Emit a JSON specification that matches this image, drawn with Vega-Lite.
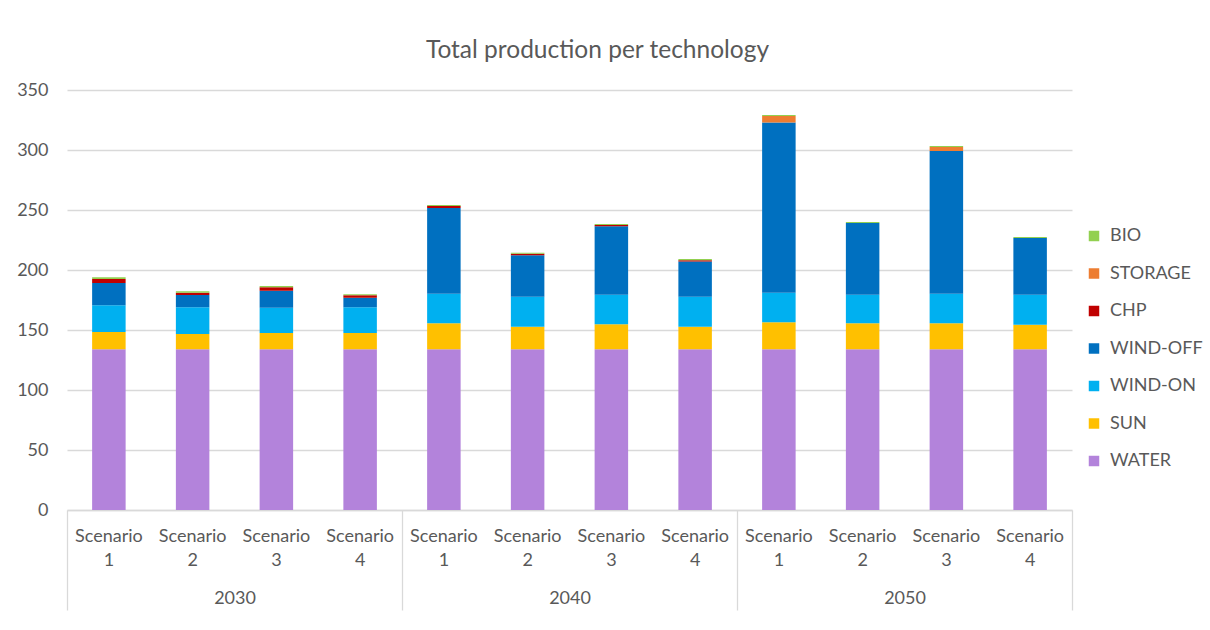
{
  "$schema": "https://vega.github.io/schema/vega-lite/v6.json",
  "autosize": {"type": "none"},
  "padding": {"left": 67, "top": 90, "right": 138, "bottom": 120},
  "width": 1005,
  "height": 420,
  "background": "white",
  "config": {"view": {"stroke": null}},
  "title": {
    "text": "Total production per technology",
    "anchor": "middle",
    "frame": "group",
    "dx": 28,
    "offset": 18,
    "font": "Lato",
    "fontSize": 24.5,
    "fontWeight": "normal",
    "color": "#595959"
  },
  "data": {
    "values": [
      {"year": "2030", "scenario": "Scenario 1", "tech": "WATER", "value": 134},
      {"year": "2030", "scenario": "Scenario 1", "tech": "SUN", "value": 14.3},
      {"year": "2030", "scenario": "Scenario 1", "tech": "WIND-ON", "value": 22.3},
      {"year": "2030", "scenario": "Scenario 1", "tech": "WIND-OFF", "value": 18.6},
      {"year": "2030", "scenario": "Scenario 1", "tech": "CHP", "value": 3.3},
      {"year": "2030", "scenario": "Scenario 1", "tech": "BIO", "value": 1.5},
      {"year": "2030", "scenario": "Scenario 2", "tech": "WATER", "value": 134},
      {"year": "2030", "scenario": "Scenario 2", "tech": "SUN", "value": 12.7},
      {"year": "2030", "scenario": "Scenario 2", "tech": "WIND-ON", "value": 22.2},
      {"year": "2030", "scenario": "Scenario 2", "tech": "WIND-OFF", "value": 10.3},
      {"year": "2030", "scenario": "Scenario 2", "tech": "CHP", "value": 1.9},
      {"year": "2030", "scenario": "Scenario 2", "tech": "BIO", "value": 1.1},
      {"year": "2030", "scenario": "Scenario 3", "tech": "WATER", "value": 134},
      {"year": "2030", "scenario": "Scenario 3", "tech": "SUN", "value": 13.5},
      {"year": "2030", "scenario": "Scenario 3", "tech": "WIND-ON", "value": 21.1},
      {"year": "2030", "scenario": "Scenario 3", "tech": "WIND-OFF", "value": 14.2},
      {"year": "2030", "scenario": "Scenario 3", "tech": "CHP", "value": 2.8},
      {"year": "2030", "scenario": "Scenario 3", "tech": "BIO", "value": 1.1},
      {"year": "2030", "scenario": "Scenario 4", "tech": "WATER", "value": 134},
      {"year": "2030", "scenario": "Scenario 4", "tech": "SUN", "value": 13.5},
      {"year": "2030", "scenario": "Scenario 4", "tech": "WIND-ON", "value": 21.4},
      {"year": "2030", "scenario": "Scenario 4", "tech": "WIND-OFF", "value": 8.0},
      {"year": "2030", "scenario": "Scenario 4", "tech": "CHP", "value": 2.0},
      {"year": "2030", "scenario": "Scenario 4", "tech": "BIO", "value": 0.8},
      {"year": "2040", "scenario": "Scenario 1", "tech": "WATER", "value": 134},
      {"year": "2040", "scenario": "Scenario 1", "tech": "SUN", "value": 21.6},
      {"year": "2040", "scenario": "Scenario 1", "tech": "WIND-ON", "value": 24.7},
      {"year": "2040", "scenario": "Scenario 1", "tech": "WIND-OFF", "value": 71.4},
      {"year": "2040", "scenario": "Scenario 1", "tech": "CHP", "value": 1.6},
      {"year": "2040", "scenario": "Scenario 1", "tech": "BIO", "value": 0.9},
      {"year": "2040", "scenario": "Scenario 2", "tech": "WATER", "value": 134},
      {"year": "2040", "scenario": "Scenario 2", "tech": "SUN", "value": 18.8},
      {"year": "2040", "scenario": "Scenario 2", "tech": "WIND-ON", "value": 25.0},
      {"year": "2040", "scenario": "Scenario 2", "tech": "WIND-OFF", "value": 34.4},
      {"year": "2040", "scenario": "Scenario 2", "tech": "CHP", "value": 1.4},
      {"year": "2040", "scenario": "Scenario 2", "tech": "BIO", "value": 0.8},
      {"year": "2040", "scenario": "Scenario 3", "tech": "WATER", "value": 134},
      {"year": "2040", "scenario": "Scenario 3", "tech": "SUN", "value": 20.7},
      {"year": "2040", "scenario": "Scenario 3", "tech": "WIND-ON", "value": 24.7},
      {"year": "2040", "scenario": "Scenario 3", "tech": "WIND-OFF", "value": 57.0},
      {"year": "2040", "scenario": "Scenario 3", "tech": "CHP", "value": 1.1},
      {"year": "2040", "scenario": "Scenario 3", "tech": "BIO", "value": 0.8},
      {"year": "2040", "scenario": "Scenario 4", "tech": "WATER", "value": 134},
      {"year": "2040", "scenario": "Scenario 4", "tech": "SUN", "value": 18.8},
      {"year": "2040", "scenario": "Scenario 4", "tech": "WIND-ON", "value": 25.0},
      {"year": "2040", "scenario": "Scenario 4", "tech": "WIND-OFF", "value": 29.2},
      {"year": "2040", "scenario": "Scenario 4", "tech": "CHP", "value": 1.1},
      {"year": "2040", "scenario": "Scenario 4", "tech": "BIO", "value": 1.1},
      {"year": "2050", "scenario": "Scenario 1", "tech": "WATER", "value": 134},
      {"year": "2050", "scenario": "Scenario 1", "tech": "SUN", "value": 22.4},
      {"year": "2050", "scenario": "Scenario 1", "tech": "WIND-ON", "value": 24.7},
      {"year": "2050", "scenario": "Scenario 1", "tech": "WIND-OFF", "value": 141.9},
      {"year": "2050", "scenario": "Scenario 1", "tech": "STORAGE", "value": 5.3},
      {"year": "2050", "scenario": "Scenario 1", "tech": "BIO", "value": 0.9},
      {"year": "2050", "scenario": "Scenario 2", "tech": "WATER", "value": 134},
      {"year": "2050", "scenario": "Scenario 2", "tech": "SUN", "value": 21.6},
      {"year": "2050", "scenario": "Scenario 2", "tech": "WIND-ON", "value": 23.8},
      {"year": "2050", "scenario": "Scenario 2", "tech": "WIND-OFF", "value": 59.8},
      {"year": "2050", "scenario": "Scenario 2", "tech": "BIO", "value": 0.8},
      {"year": "2050", "scenario": "Scenario 3", "tech": "WATER", "value": 134},
      {"year": "2050", "scenario": "Scenario 3", "tech": "SUN", "value": 21.6},
      {"year": "2050", "scenario": "Scenario 3", "tech": "WIND-ON", "value": 24.7},
      {"year": "2050", "scenario": "Scenario 3", "tech": "WIND-OFF", "value": 118.9},
      {"year": "2050", "scenario": "Scenario 3", "tech": "STORAGE", "value": 3.3},
      {"year": "2050", "scenario": "Scenario 3", "tech": "BIO", "value": 0.8},
      {"year": "2050", "scenario": "Scenario 4", "tech": "WATER", "value": 134},
      {"year": "2050", "scenario": "Scenario 4", "tech": "SUN", "value": 20.4},
      {"year": "2050", "scenario": "Scenario 4", "tech": "WIND-ON", "value": 25.0},
      {"year": "2050", "scenario": "Scenario 4", "tech": "WIND-OFF", "value": 47.3},
      {"year": "2050", "scenario": "Scenario 4", "tech": "BIO", "value": 0.8}
    ]
  },
  "encoding": {
    "x": {
      "field": "year",
      "type": "nominal",
      "scale": {"paddingInner": 0, "paddingOuter": 0},
      "axis": {
        "title": null,
        "labelAngle": 0,
        "labelFont": "Lato",
        "labelFontSize": 18,
        "labelColor": "#595959",
        "labelPadding": -21,
        "tickBand": "extent",
        "tickSize": 100,
        "tickColor": "#D9D9D9",
        "tickWidth": 1.3,
        "domainColor": "#D9D9D9",
        "domainWidth": 1.3,
        "grid": false
      }
    },
    "xOffset": {
      "field": "scenario",
      "type": "nominal",
      "scale": {"paddingInner": 0.6, "paddingOuter": 0.3}
    }
  },
  "layer": [
    {
      "mark": {"type": "bar"},
      "encoding": {
        "y": {
          "field": "value",
          "type": "quantitative",
          "stack": "zero",
          "scale": {"domain": [0, 350]},
          "axis": {
            "title": null,
            "values": [0, 50, 100, 150, 200, 250, 300, 350],
            "domain": false,
            "ticks": false,
            "grid": true,
            "gridColor": "#D9D9D9",
            "gridWidth": 1.3,
            "labelFont": "Lato",
            "labelFontSize": 18,
            "labelColor": "#595959",
            "labelPadding": 19
          }
        },
        "order": {"field": "year", "sort": "ascending"},
        "color": {
          "field": "tech",
          "type": "nominal",
          "sort": ["BIO", "STORAGE", "CHP", "WIND-OFF", "WIND-ON", "SUN", "WATER"],
          "scale": {
            "domain": ["BIO", "STORAGE", "CHP", "WIND-OFF", "WIND-ON", "SUN", "WATER"],
            "range": ["#92D050", "#ED7D31", "#C00000", "#0070C0", "#00B0F0", "#FFC000", "#B383DB"]
          },
          "legend": {
            "title": null,
            "orient": "none",
            "legendX": 1018,
            "legendY": 137,
            "padding": 0,
            "symbolType": "square",
            "symbolSize": 110,
            "symbolStrokeWidth": 0,
            "labelFont": "Lato",
            "labelFontSize": 18,
            "labelColor": "#595959",
            "labelOffset": 7,
            "rowPadding": 19.5
          }
        }
      }
    },
    {
      "transform": [{"filter": "datum.tech === 'WATER'"}],
      "mark": {
        "type": "text",
        "baseline": "top",
        "align": "center",
        "dy": 18,
        "lineBreak": " ",
        "lineHeight": 24,
        "font": "Lato",
        "fontSize": 18,
        "color": "#595959"
      },
      "encoding": {
        "y": {"datum": 0, "type": "quantitative"},
        "text": {"field": "scenario"}
      }
    }
  ]
}
